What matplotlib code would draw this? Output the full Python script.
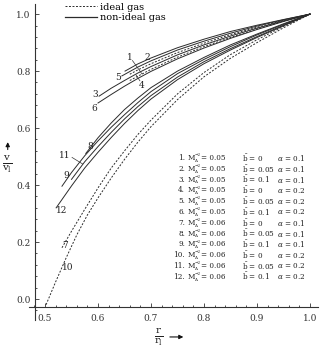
import numpy as np
import matplotlib.pyplot as plt
from matplotlib.lines import Line2D
from matplotlib.ticker import MultipleLocator

plt.rcParams['font.family'] = 'DejaVu Serif'
plt.rcParams['mathtext.fontset'] = 'dejavuserif'

# curves: r/r1 -> v/v1
r_c1 = [0.66, 0.675, 0.7, 0.75, 0.8, 0.85, 0.9, 0.95, 1.0]
v_c1 = [0.789, 0.804, 0.826, 0.865, 0.898, 0.928, 0.954, 0.978, 1.0]
r_c2 = [0.651, 0.675, 0.7, 0.75, 0.8, 0.85, 0.9, 0.95, 1.0]
v_c2 = [0.80, 0.825, 0.846, 0.882, 0.912, 0.939, 0.961, 0.981, 1.0]
r_c3 = [0.602, 0.625, 0.65, 0.675, 0.7, 0.75, 0.8, 0.85, 0.9, 0.95, 1.0]
v_c3 = [0.712, 0.74, 0.767, 0.793, 0.816, 0.857, 0.892, 0.923, 0.951, 0.976, 1.0]
r_c4 = [0.66, 0.675, 0.7, 0.75, 0.8, 0.85, 0.9, 0.95, 1.0]
v_c4 = [0.767, 0.782, 0.806, 0.849, 0.886, 0.918, 0.948, 0.975, 1.0]
r_c5 = [0.645, 0.675, 0.7, 0.75, 0.8, 0.85, 0.9, 0.95, 1.0]
v_c5 = [0.783, 0.814, 0.836, 0.874, 0.905, 0.933, 0.958, 0.98, 1.0]
r_c6 = [0.60, 0.625, 0.65, 0.675, 0.7, 0.75, 0.8, 0.85, 0.9, 0.95, 1.0]
v_c6 = [0.688, 0.718, 0.747, 0.774, 0.799, 0.843, 0.881, 0.915, 0.946, 0.974, 1.0]
r_c7 = [0.532, 0.55, 0.575, 0.6, 0.625, 0.65, 0.675, 0.7, 0.75, 0.8, 0.85, 0.9, 0.95, 1.0]
v_c7 = [0.18, 0.238, 0.315, 0.39, 0.46, 0.52, 0.577, 0.628, 0.72, 0.795, 0.858, 0.91, 0.957, 1.0]
r_c8 = [0.577, 0.6, 0.625, 0.65, 0.675, 0.7, 0.75, 0.8, 0.85, 0.9, 0.95, 1.0]
v_c8 = [0.511, 0.566, 0.618, 0.665, 0.705, 0.742, 0.80, 0.848, 0.892, 0.93, 0.966, 1.0]
r_c9 = [0.532, 0.55, 0.575, 0.6, 0.625, 0.65, 0.675, 0.7, 0.75, 0.8, 0.85, 0.9, 0.95, 1.0]
v_c9 = [0.396, 0.444, 0.503, 0.555, 0.603, 0.647, 0.689, 0.728, 0.791, 0.841, 0.886, 0.927, 0.964, 1.0]
r_c10 = [0.502, 0.52, 0.54, 0.56, 0.58, 0.6, 0.625, 0.65, 0.675, 0.7, 0.75, 0.8, 0.85, 0.9, 0.95, 1.0]
v_c10 = [-0.02, 0.06, 0.145, 0.225, 0.295, 0.355, 0.425, 0.49, 0.55, 0.605, 0.70, 0.78, 0.845, 0.90, 0.952, 1.0]
r_c11 = [0.55, 0.575, 0.6, 0.625, 0.65, 0.675, 0.7, 0.75, 0.8, 0.85, 0.9, 0.95, 1.0]
v_c11 = [0.42, 0.482, 0.535, 0.585, 0.632, 0.675, 0.714, 0.779, 0.833, 0.879, 0.921, 0.961, 1.0]
r_c12 = [0.521, 0.55, 0.575, 0.6, 0.625, 0.65, 0.675, 0.7, 0.75, 0.8, 0.85, 0.9, 0.95, 1.0]
v_c12 = [0.32, 0.397, 0.46, 0.515, 0.567, 0.616, 0.661, 0.702, 0.77, 0.826, 0.874, 0.918, 0.959, 1.0]

curves = [(r_c1, v_c1), (r_c2, v_c2), (r_c3, v_c3), (r_c4, v_c4), (r_c5, v_c5), (r_c6, v_c6),
          (r_c7, v_c7), (r_c8, v_c8), (r_c9, v_c9), (r_c10, v_c10), (r_c11, v_c11), (r_c12, v_c12)]
ideal = [1, 4, 7, 10]  # b = 0 -> ideal gas, dashed

# parameter table
mach = ['0.05'] * 6 + ['0.06'] * 6
bbar = ['0', '0.05', '0.1'] * 4
alpha = ['0.1'] * 3 + ['0.2'] * 3 + ['0.1'] * 3 + ['0.2'] * 3

# curve number labels (position) and leader lines
label_pos = {1: (0.660, 0.849), 2: (0.692, 0.849), 3: (0.594, 0.719), 4: (0.683, 0.751),
             5: (0.638, 0.779), 6: (0.592, 0.667), 7: (0.538, 0.189), 8: (0.585, 0.537),
             9: (0.541, 0.435), 10: (0.543, 0.109), 11: (0.538, 0.505), 12: (0.532, 0.309)}
leaders = {1: ((0.665, 0.837), (0.683, 0.790)), 4: ((0.679, 0.766), (0.672, 0.786)),
           11: ((0.551, 0.497), (0.571, 0.474))}

fig = plt.figure(figsize=(3.22, 3.51), dpi=100)
ax = fig.add_axes([0.0904, 0.0872, 0.897, 0.901])

col = '#2b2b2b'
for i, (r, v) in enumerate(curves, start=1):
    if i in ideal:
        ax.plot(r, v, color=col, lw=0.7, ls=(0, (2.0, 1.6)))
    else:
        ax.plot(r, v, color=col, lw=0.7)

for k, (x, y) in label_pos.items():
    ax.text(x, y, str(k), fontsize=6.5, ha='center', va='center', color='#222')
for k, (p0, p1) in leaders.items():
    ax.plot([p0[0], p1[0]], [p0[1], p1[1]], color='#333', lw=0.5)

# table (M_A^-2 built from pieces so the rows stay compact)
y0 = 0.495
dy = 0.0379
fs = 5.2
tc = '#222'
for i in range(12):
    y = y0 - i * dy
    ax.text(0.764, y, f'{i + 1}.', fontsize=fs, va='center', ha='right', color=tc)
    ax.text(0.769, y, 'M', fontsize=fs, va='center', ha='left', color=tc)
    ax.annotate('\u22122', (0.769, y), xytext=(4.8, 2.0), textcoords='offset points',
                fontsize=3.0, va='center', ha='left', color=tc)
    ax.annotate('A', (0.769, y), xytext=(4.8, -2.0), textcoords='offset points',
                fontsize=3.0, va='center', ha='left', color=tc)
    ax.annotate(f'= {mach[i]}', (0.769, y), xytext=(10.0, 0), textcoords='offset points',
                fontsize=fs, va='center', ha='left', color=tc)
    ax.text(0.872, y, r'$\bar{\mathrm{b}}$' + f' = {bbar[i]}', fontsize=fs,
            va='center', ha='left', color=tc)
    ax.text(0.938, y, r'$\alpha$' + f' = {alpha[i]}', fontsize=fs,
            va='center', ha='left', color=tc)

# legend
handles = [Line2D([], [], color=col, lw=0.7, ls=(0, (2.0, 1.6))),
           Line2D([], [], color=col, lw=0.9)]
ax.legend(handles, ['ideal gas', 'non-ideal gas'], loc='upper left',
          bbox_to_anchor=(0.10, 1.026), frameon=False, fontsize=7,
          handlelength=3.3, handletextpad=0.3, labelspacing=0.15, borderpad=0.2)

# axes in crossing style
ax.set_xlim(0.47, 1.015)
ax.set_ylim(-0.075, 1.035)
ax.spines['left'].set_position(('data', 0.481))
ax.spines['bottom'].set_position(('data', -0.028))
ax.spines['top'].set_visible(False)
ax.spines['right'].set_visible(False)
for s in ('left', 'bottom'):
    ax.spines[s].set_linewidth(0.8)
    ax.spines[s].set_color('#333')
ax.set_xticks([0.5, 0.6, 0.7, 0.8, 0.9, 1.0])
ax.set_yticks([0.0, 0.2, 0.4, 0.6, 0.8, 1.0])
ax.xaxis.set_minor_locator(MultipleLocator(0.02))
ax.yaxis.set_minor_locator(MultipleLocator(0.04))
ax.set_xticklabels(['0.5', '0.6', '0.7', '0.8', '0.9', '1.0'])
ax.set_yticklabels(['0.0', '0.2', '0.4', '0.6', '0.8', '1.0'])
ax.tick_params(which='both', direction='in', colors='#333', labelsize=6.5, width=0.6)
ax.tick_params(which='major', length=3)
ax.tick_params(which='minor', length=1.5)
ax.tick_params(axis='x', pad=5)
ax.tick_params(axis='y', pad=3)

# axis labels with arrows
fig.text(0.494, 0.040, r'$\frac{\mathrm{r}}{\mathrm{r}_{\mathrm{l}}}$', fontsize=10.5,
         ha='center', va='center', color='#222')
fig.text(0.024, 0.532, r'$\frac{\mathrm{v}}{\mathrm{v}_{\mathrm{l}}}$', fontsize=10.5,
         ha='center', va='center', color='#222')
ax.annotate('', xy=(0.578, 0.040), xytext=(0.519, 0.040), xycoords='figure fraction',
            textcoords='figure fraction',
            arrowprops=dict(arrowstyle='-|>', color='#111', lw=0.8, mutation_scale=6))
ax.annotate('', xy=(0.024, 0.603), xytext=(0.024, 0.566), xycoords='figure fraction',
            textcoords='figure fraction',
            arrowprops=dict(arrowstyle='-|>', color='#111', lw=0.8, mutation_scale=6))

fig.savefig('out.png', dpi=100)
